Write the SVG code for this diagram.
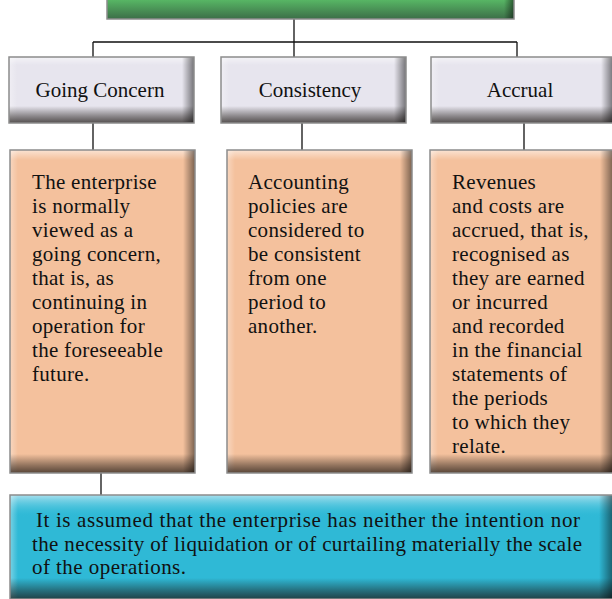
<svg xmlns="http://www.w3.org/2000/svg" width="612" height="599" viewBox="0 0 612 599">
  <style>
    .label { font-family: "Liberation Serif", "Times New Roman", serif; font-size: 21px; fill: #111; }
    .body { font-family: "Liberation Serif", "Times New Roman", serif; font-size: 21px; fill: #111; letter-spacing: 0.3px; }
    .wire { fill: none; stroke: #111; stroke-width: 1.3; }
    .edge { fill: none; stroke: #8c8c8c; stroke-width: 1.5; }
  </style>
  <defs>
    <!-- bevel overlays, each used on a thin strip along one side of a box -->
    <linearGradient id="shadeBottom" x1="0" y1="0" x2="0" y2="1">
      <stop offset="0" stop-color="#1a1410" stop-opacity="0"/>
      <stop offset="0.6" stop-color="#1a1410" stop-opacity="0.45"/>
      <stop offset="1" stop-color="#1a1410" stop-opacity="0.72"/>
    </linearGradient>
    <linearGradient id="shadeRight" x1="0" y1="0" x2="1" y2="0">
      <stop offset="0" stop-color="#000" stop-opacity="0"/>
      <stop offset="1" stop-color="#000" stop-opacity="0.5"/>
    </linearGradient>
    <linearGradient id="lightTop" x1="0" y1="0" x2="0" y2="1">
      <stop offset="0" stop-color="#fff" stop-opacity="0.55"/>
      <stop offset="1" stop-color="#fff" stop-opacity="0"/>
    </linearGradient>
    <linearGradient id="lightLeft" x1="0" y1="0" x2="1" y2="0">
      <stop offset="0" stop-color="#fff" stop-opacity="0.35"/>
      <stop offset="1" stop-color="#fff" stop-opacity="0"/>
    </linearGradient>
    <linearGradient id="greenFace" x1="0" y1="0" x2="0" y2="1">
      <stop offset="0" stop-color="#6cc878"/>
      <stop offset="0.6" stop-color="#58b865"/>
      <stop offset="1" stop-color="#3c6e48"/>
    </linearGradient>
    <linearGradient id="blueTop" x1="0" y1="0" x2="0" y2="1">
      <stop offset="0" stop-color="#a9e0ee"/>
      <stop offset="1" stop-color="#30bcd8" stop-opacity="0"/>
    </linearGradient>
  </defs>

  <!-- connectors -->
  <g id="connectors">
    <path class="wire" d="M294 19 V42 M93 42 H517 M93 42 V57 M294 42 V57 M517 42 V57"/>
    <path class="wire" d="M93 123 V150 M302 123 V150 M524 123 V150"/>
    <path class="wire" d="M101 473 V495"/>
  </g>

  <!-- top heading bar (clipped by the frame) -->
  <g id="heading">
    <rect x="107" y="-30" width="407" height="49" fill="url(#greenFace)"/>
    <rect x="504" y="-30" width="10" height="49" fill="url(#shadeRight)"/>
    <rect class="edge" x="107" y="-30" width="407" height="49" stroke="#555"/>
  </g>

  <!-- principle headers -->
  <g id="going-concern">
    <rect x="9" y="57" width="185" height="66" fill="#e7e5ee"/>
    <rect x="9" y="57" width="185" height="8" fill="url(#lightTop)"/>
    <rect x="9" y="57" width="8" height="66" fill="url(#lightLeft)"/>
    <rect x="9" y="106" width="185" height="17" fill="url(#shadeBottom)"/>
    <rect x="182" y="57" width="12" height="66" fill="url(#shadeRight)"/>
    <rect class="edge" x="9" y="57" width="185" height="66"/>
    <text class="label" x="100" y="97" text-anchor="middle">Going Concern</text>
  </g>
  <g id="consistency">
    <rect x="221" y="57" width="185" height="66" fill="#e7e5ee"/>
    <rect x="221" y="57" width="185" height="8" fill="url(#lightTop)"/>
    <rect x="221" y="57" width="8" height="66" fill="url(#lightLeft)"/>
    <rect x="221" y="106" width="185" height="17" fill="url(#shadeBottom)"/>
    <rect x="394" y="57" width="12" height="66" fill="url(#shadeRight)"/>
    <rect class="edge" x="221" y="57" width="185" height="66"/>
    <text class="label" x="310" y="97" text-anchor="middle">Consistency</text>
  </g>
  <g id="accrual">
    <rect x="431" y="57" width="184" height="66" fill="#e7e5ee"/>
    <rect x="431" y="57" width="184" height="8" fill="url(#lightTop)"/>
    <rect x="431" y="57" width="8" height="66" fill="url(#lightLeft)"/>
    <rect x="431" y="106" width="184" height="17" fill="url(#shadeBottom)"/>
    <rect x="601" y="57" width="12" height="66" fill="url(#shadeRight)"/>
    <rect class="edge" x="431" y="57" width="184" height="66"/>
    <text class="label" x="520" y="97" text-anchor="middle">Accrual</text>
  </g>

  <!-- explanations -->
  <g id="going-concern-text">
    <rect x="10" y="150" width="185" height="323" fill="#f4c19d"/>
    <rect x="10" y="150" width="185" height="10" fill="url(#lightTop)"/>
    <rect x="10" y="150" width="8" height="323" fill="url(#lightLeft)"/>
    <rect x="10" y="454" width="185" height="19" fill="url(#shadeBottom)"/>
    <rect x="183" y="150" width="12" height="323" fill="url(#shadeRight)"/>
    <rect class="edge" x="10" y="150" width="185" height="323" stroke="#6a6a6a"/>
    <text class="body" x="32" y="189">
      <tspan x="32" dy="0">The enterprise</tspan>
      <tspan x="32" dy="24">is normally</tspan>
      <tspan x="32" dy="24">viewed as a</tspan>
      <tspan x="32" dy="24">going concern,</tspan>
      <tspan x="32" dy="24">that is, as</tspan>
      <tspan x="32" dy="24">continuing in</tspan>
      <tspan x="32" dy="24">operation for</tspan>
      <tspan x="32" dy="24">the foreseeable</tspan>
      <tspan x="32" dy="24">future.</tspan>
    </text>
  </g>
  <g id="consistency-text">
    <rect x="227" y="150" width="185" height="323" fill="#f4c19d"/>
    <rect x="227" y="150" width="185" height="10" fill="url(#lightTop)"/>
    <rect x="227" y="150" width="8" height="323" fill="url(#lightLeft)"/>
    <rect x="227" y="454" width="185" height="19" fill="url(#shadeBottom)"/>
    <rect x="400" y="150" width="12" height="323" fill="url(#shadeRight)"/>
    <rect class="edge" x="227" y="150" width="185" height="323" stroke="#6a6a6a"/>
    <text class="body" x="248" y="189">
      <tspan x="248" dy="0">Accounting</tspan>
      <tspan x="248" dy="24">policies are</tspan>
      <tspan x="248" dy="24">considered to</tspan>
      <tspan x="248" dy="24">be consistent</tspan>
      <tspan x="248" dy="24">from one</tspan>
      <tspan x="248" dy="24">period to</tspan>
      <tspan x="248" dy="24">another.</tspan>
    </text>
  </g>
  <g id="accrual-text">
    <rect x="430" y="150" width="183" height="323" fill="#f4c19d"/>
    <rect x="430" y="150" width="183" height="10" fill="url(#lightTop)"/>
    <rect x="430" y="150" width="8" height="323" fill="url(#lightLeft)"/>
    <rect x="430" y="454" width="183" height="19" fill="url(#shadeBottom)"/>
    <rect x="600" y="150" width="13" height="323" fill="url(#shadeRight)"/>
    <rect class="edge" x="430" y="150" width="183" height="323" stroke="#6a6a6a"/>
    <text class="body" x="452" y="189">
      <tspan x="452" dy="0">Revenues</tspan>
      <tspan x="452" dy="24">and costs are</tspan>
      <tspan x="452" dy="24">accrued, that is,</tspan>
      <tspan x="452" dy="24">recognised as</tspan>
      <tspan x="452" dy="24">they are earned</tspan>
      <tspan x="452" dy="24">or incurred</tspan>
      <tspan x="452" dy="24">and recorded</tspan>
      <tspan x="452" dy="24">in the financial</tspan>
      <tspan x="452" dy="24">statements of</tspan>
      <tspan x="452" dy="24">the periods</tspan>
      <tspan x="452" dy="24">to which they</tspan>
      <tspan x="452" dy="24">relate.</tspan>
    </text>
  </g>

  <!-- going concern note -->
  <g id="going-concern-note">
    <rect x="10" y="495" width="603" height="104" fill="#2fb9d6"/>
    <rect x="10" y="495" width="603" height="22" fill="url(#blueTop)"/>
    <rect x="10" y="495" width="8" height="104" fill="url(#lightLeft)"/>
    <rect x="10" y="578" width="603" height="21" fill="url(#shadeBottom)"/>
    <rect x="599" y="495" width="14" height="104" fill="url(#shadeRight)"/>
    <rect class="edge" x="10" y="495" width="603" height="104" stroke="#9a9a9a"/>
    <text class="label" x="36" y="527" textLength="544" lengthAdjust="spacing">It is assumed that the enterprise has neither the intention nor</text>
    <text class="label" x="32" y="551" textLength="550" lengthAdjust="spacing">the necessity of liquidation or of curtailing materially the scale</text>
    <text class="label" x="32" y="574" textLength="154" lengthAdjust="spacing">of the operations.</text>
  </g>
</svg>
